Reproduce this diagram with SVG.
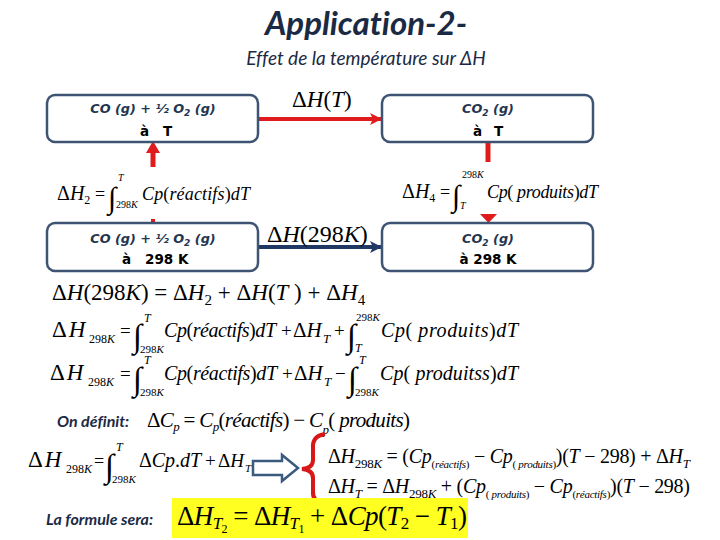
<svg xmlns="http://www.w3.org/2000/svg" width="720" height="540" viewBox="0 0 720 540">
<defs>
<style>
.title{font-family:Lato,"Open Sans",sans-serif;font-weight:bold;font-style:italic;fill:#1b2a44;font-variant-ligatures:none}
.sub{font-family:Lato,"Open Sans",sans-serif;font-style:italic;fill:#1b2a44;font-variant-ligatures:none}
.lbl{font-family:Lato,"Open Sans",sans-serif;font-weight:bold;font-style:italic;fill:#1b2a44;font-size:16px;font-variant-ligatures:none}
.box{fill:#fff;stroke:#3f5473;stroke-width:2.5}
.bt{font-family:"DejaVu Sans",sans-serif;font-weight:bold;font-style:oblique;fill:#243550;font-size:12.8px;text-anchor:middle}
.bk{font-family:"DejaVu Sans",sans-serif;font-weight:bold;fill:#000;font-size:13.5px}
.e{font-family:"Liberation Serif","Times New Roman",serif;font-style:italic;fill:#000}
.n{font-style:normal}
.int{font-family:"Liberation Serif","Times New Roman",serif;fill:#000}
.red{stroke:#e01b1b;fill:none}
.blue{stroke:#1f3864;fill:none}
</style>
<marker id="hr" viewBox="0 0 12 12" refX="12" refY="6" markerWidth="12" markerHeight="12" markerUnits="userSpaceOnUse" orient="auto"><path d="M0,0 L12,6 L0,12 L3,6 Z" fill="#e01b1b"/></marker>
<marker id="hb" viewBox="0 0 12 12" refX="12" refY="6" markerWidth="12" markerHeight="12" markerUnits="userSpaceOnUse" orient="auto"><path d="M0,0 L12,6 L0,12 L3,6 Z" fill="#1f3864"/></marker>
</defs>
<rect width="720" height="540" fill="#fff"/>

<text class="title" x="366" y="35" font-size="33" text-anchor="middle">Application-2-</text>
<text class="sub" x="366" y="65" font-size="19" text-anchor="middle">Effet de la température sur ΔH</text>

<g id="connectors">
<line class="red" x1="258" y1="119" x2="382" y2="119" stroke-width="4" marker-end="url(#hr)"/>
<line class="blue" x1="258" y1="247" x2="382" y2="247" stroke-width="4" marker-end="url(#hb)"/>
<line class="red" x1="153" y1="167" x2="153" y2="152" stroke-width="5"/>
<path d="M146,153 L153,141 L160,153 Z" fill="#e01b1b"/>
<line class="red" x1="153" y1="219" x2="153" y2="224" stroke-width="4"/>
<line class="red" x1="488" y1="142" x2="488" y2="162" stroke-width="5"/>
<path d="M480,214 L497,214 L488.5,223 Z" fill="#e01b1b"/>
</g>

<g id="n1">
<rect class="box" x="47" y="95" width="211" height="47" rx="8"/>
<text class="bt" x="153" y="113">CO (g) + ½ O<tspan font-size="9" dy="3">2</tspan><tspan dy="-3"> (g)</tspan></text>
<text class="bk" y="136"><tspan x="140">à</tspan><tspan x="163">T</tspan></text>
</g>
<g id="n2">
<rect class="box" x="382" y="95" width="211" height="47" rx="8"/>
<text class="bt" x="488" y="113">CO<tspan font-size="9" dy="3">2</tspan><tspan dy="-3"> (g)</tspan></text>
<text class="bk" y="136"><tspan x="473">à</tspan><tspan x="494">T</tspan></text>
</g>
<g id="n3">
<rect class="box" x="47" y="223" width="211" height="48" rx="8"/>
<text class="bt" x="153" y="243">CO (g) + ½ O<tspan font-size="9" dy="3">2</tspan><tspan dy="-3"> (g)</tspan></text>
<text class="bk" y="264"><tspan x="122">à</tspan><tspan x="145">298 K</tspan></text>
</g>
<g id="n4">
<rect class="box" x="382" y="223" width="211" height="48" rx="8"/>
<text class="bt" x="488" y="243">CO<tspan font-size="9" dy="3">2</tspan><tspan dy="-3"> (g)</tspan></text>
<text class="bk" x="488" y="264" text-anchor="middle">à 298 K</text>
</g>

<!-- arrow labels -->
<text class="e" x="292" y="107" font-size="23"><tspan class="n">Δ</tspan>H<tspan class="n">(</tspan>T<tspan class="n">)</tspan></text>
<text class="e" x="267" y="242" font-size="24"><tspan class="n">Δ</tspan>H<tspan class="n">(298</tspan>K<tspan class="n">)</tspan></text>

<!-- ΔH2 -->
<text class="e" x="57" y="200" font-size="20"><tspan class="n">Δ</tspan>H<tspan class="n" font-size="12" dy="4">2</tspan></text>
<text class="n e" x="95" y="200" font-size="18">=</text>
<text class="int" x="108" y="208" font-size="30">∫</text>
<text class="e" x="118" y="181" font-size="10">T</text>
<text class="e" x="116" y="208" font-size="10"><tspan class="n">298</tspan>K</text>
<text class="e" x="142" y="200" font-size="18" textLength="108">Cp<tspan class="n">(</tspan>réactifs<tspan class="n">)</tspan>dT</text>

<!-- ΔH4 -->
<text class="e" x="402" y="198" font-size="20"><tspan class="n">Δ</tspan>H<tspan class="n" font-size="12" dy="4">4</tspan></text>
<text class="n e" x="440" y="198" font-size="18">=</text>
<text class="int" x="452" y="206" font-size="30">∫</text>
<text class="e" x="462" y="178" font-size="10"><tspan class="n">298</tspan>K</text>
<text class="e" x="460" y="209" font-size="10">T</text>
<text class="e" x="487" y="198" font-size="18" textLength="111">Cp<tspan class="n">( </tspan>produits<tspan class="n">)</tspan>dT</text>

<!-- line 1 -->
<text class="e" x="52" y="300" font-size="23"><tspan class="n">Δ</tspan>H<tspan class="n">(298</tspan>K<tspan class="n">) = Δ</tspan>H<tspan class="n" font-size="15" dy="5">2</tspan><tspan class="n" dy="-5"> + Δ</tspan>H<tspan class="n">(</tspan>T<tspan class="n"> ) + Δ</tspan>H<tspan class="n" font-size="15" dy="5">4</tspan></text>

<!-- line 2 -->
<text class="e" x="52" y="337" font-size="23"><tspan class="n">Δ</tspan><tspan dx="2">H</tspan></text>
<text class="e" x="89" y="343" font-size="12"><tspan class="n">298</tspan>K</text>
<text class="n e" x="120" y="337" font-size="19">=</text>
<text class="int" x="133" y="347" font-size="33">∫</text>
<text class="e" x="144" y="322" font-size="12">T</text>
<text class="e" x="140" y="353" font-size="11"><tspan class="n">298</tspan>K</text>
<text class="e" x="164" y="337" font-size="20" textLength="112">Cp<tspan class="n">(</tspan>réactifs<tspan class="n">)</tspan>dT</text>
<text class="n e" x="281" y="337" font-size="19">+</text>
<text class="e" x="293" y="337" font-size="21"><tspan class="n">Δ</tspan>H</text>
<text class="e" x="323" y="343" font-size="13">T</text>
<text class="n e" x="334" y="337" font-size="19">+</text>
<text class="int" x="347" y="347" font-size="33">∫</text>
<text class="e" x="356" y="321" font-size="11"><tspan class="n">298</tspan>K</text>
<text class="e" x="355" y="352" font-size="12">T</text>
<text class="e" x="381" y="337" font-size="20" textLength="137">Cp<tspan class="n">( </tspan>produits<tspan class="n">)</tspan>dT</text>

<!-- line 3 -->
<text class="e" x="50" y="380" font-size="23"><tspan class="n">Δ</tspan><tspan dx="2">H</tspan></text>
<text class="e" x="88" y="386" font-size="12"><tspan class="n">298</tspan>K</text>
<text class="n e" x="120" y="380" font-size="19">=</text>
<text class="int" x="133" y="390" font-size="33">∫</text>
<text class="e" x="144" y="364" font-size="12">T</text>
<text class="e" x="140" y="396" font-size="11"><tspan class="n">298</tspan>K</text>
<text class="e" x="164" y="380" font-size="20" textLength="113">Cp<tspan class="n">(</tspan>réactifs<tspan class="n">)</tspan>dT</text>
<text class="n e" x="282" y="380" font-size="19">+</text>
<text class="e" x="294" y="380" font-size="21"><tspan class="n">Δ</tspan>H</text>
<text class="e" x="324" y="386" font-size="13">T</text>
<text class="n e" x="335" y="380" font-size="19">−</text>
<text class="int" x="348" y="390" font-size="33">∫</text>
<text class="e" x="359" y="364" font-size="12">T</text>
<text class="e" x="355" y="396" font-size="11"><tspan class="n">298</tspan>K</text>
<text class="e" x="380" y="380" font-size="20" textLength="138">Cp<tspan class="n">( </tspan>produitss<tspan class="n">)</tspan>dT</text>

<!-- On définit -->
<text class="lbl" x="57" y="427">On définit:</text>
<text class="e" x="147" y="427" font-size="21" textLength="263"><tspan class="n">Δ</tspan>C<tspan font-size="13" dy="4">p</tspan><tspan class="n" dy="-4"> = </tspan>C<tspan font-size="13" dy="4">p</tspan><tspan class="n" dy="-4">(</tspan>réactifs<tspan class="n">) − </tspan>C<tspan font-size="13" dy="7">p</tspan><tspan class="n" dy="-7">( </tspan>produits<tspan class="n">)</tspan></text>

<!-- ΔH298K = ∫ΔCp.dT + ΔHT -->
<text class="e" x="28" y="467" font-size="23"><tspan class="n">Δ</tspan><tspan dx="2">H</tspan></text>
<text class="e" x="66" y="473" font-size="12"><tspan class="n">298</tspan>K</text>
<text class="n e" x="94" y="467" font-size="18">=</text>
<text class="int" x="105" y="477" font-size="33">∫</text>
<text class="e" x="116" y="451" font-size="12">T</text>
<text class="e" x="112" y="483" font-size="11"><tspan class="n">298</tspan>K</text>
<text class="e" x="139" y="467" font-size="20" textLength="62"><tspan class="n">Δ</tspan>Cp<tspan class="n">.</tspan>dT</text>
<text class="n e" x="205" y="467" font-size="19">+</text>
<text class="e" x="218" y="467" font-size="19"><tspan class="n">Δ</tspan>H</text>
<text class="e" x="245" y="472" font-size="11">T</text>

<path d="M253,461 L282,461 L282,455 L298,468 L282,481 L282,475 L253,475 Z" fill="#fff" stroke="#3b5a80" stroke-width="2.5"/>
<path d="M325,434 Q312,436 313,448 L313,460 Q313,468 302,469 Q313,470 313,478 L313,491 Q312,502 325,504" fill="none" stroke="#d81818" stroke-width="4"/>

<rect x="172" y="498" width="296" height="40" fill="#ffff22"/>

<text class="e" x="328" y="463" font-size="20" textLength="362"><tspan class="n">Δ</tspan>H<tspan class="n" font-size="13" dy="5">298</tspan><tspan font-size="13">K</tspan><tspan class="n" dy="-5"> = (</tspan>Cp<tspan font-size="11" dy="5"><tspan class="n">(</tspan>réactifs<tspan class="n">)</tspan></tspan><tspan class="n" dy="-5"> − </tspan>Cp<tspan font-size="11" dy="5"><tspan class="n">( </tspan>produits<tspan class="n">)</tspan></tspan><tspan class="n" dy="-5">)(</tspan>T<tspan class="n"> − 298) + Δ</tspan>H<tspan font-size="13" dy="5">T</tspan></text>
<text class="e" x="328" y="493" font-size="20" textLength="362"><tspan class="n">Δ</tspan>H<tspan font-size="13" dy="5">T</tspan><tspan class="n" dy="-5"> = Δ</tspan>H<tspan class="n" font-size="13" dy="5">298</tspan><tspan font-size="13">K</tspan><tspan class="n" dy="-5"> + (</tspan>Cp<tspan font-size="11" dy="5"><tspan class="n">( </tspan>produits<tspan class="n">)</tspan></tspan><tspan class="n" dy="-5"> − </tspan>Cp<tspan font-size="11" dy="5"><tspan class="n">(</tspan>réactifs<tspan class="n">)</tspan></tspan><tspan class="n" dy="-5">)(</tspan>T<tspan class="n"> − 298)</tspan></text>

<text class="lbl" x="46" y="525">La formule sera:</text>
<text class="e" x="177" y="525" font-size="27" textLength="290"><tspan class="n">Δ</tspan>H<tspan font-size="17" dy="4">T</tspan><tspan class="n" font-size="12" dy="4">2</tspan><tspan class="n" dy="-8"> = Δ</tspan>H<tspan font-size="17" dy="4">T</tspan><tspan class="n" font-size="12" dy="4">1</tspan><tspan class="n" dy="-8"> + Δ</tspan>Cp<tspan class="n">(</tspan>T<tspan class="n" font-size="17" dy="4">2</tspan><tspan class="n" dy="-4"> − </tspan>T<tspan class="n" font-size="17" dy="4">1</tspan><tspan class="n" dy="-4">)</tspan></text>
</svg>
